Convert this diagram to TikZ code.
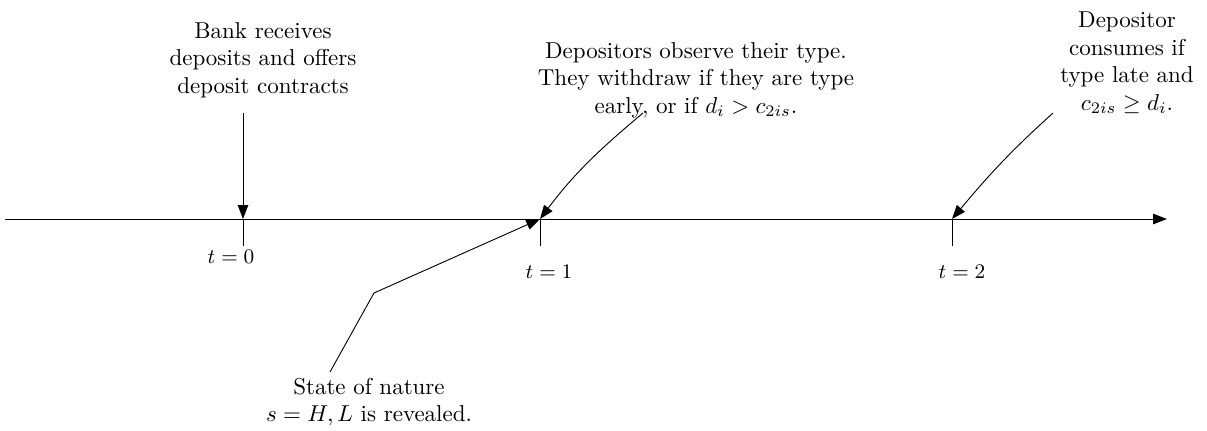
\documentclass[tikz,border=0pt]{standalone}
\usepackage{amsmath,amssymb}
\usetikzlibrary{arrows.meta,positioning}

\begin{document}
\begin{tikzpicture}[
  x=0.435pt, y=-0.435pt,
  note/.style={align=center},
  tlabel/.style={font=\small},
  arrow/.style={-{Triangle[length=6pt,width=4.5pt]}}
]
\useasboundingbox (0,0) rectangle (1207,430);

% time line
\coordinate (start) at (5,219);
\coordinate (end) at (1167,219);
\coordinate (t0) at (243,219);
\coordinate (t1) at (540,219);
\coordinate (t2) at (952,219);
\draw[arrow] (start) -- (end);
\foreach \p in {t0,t1,t2}
  \draw (\p) -- ++(0,27);

\node[tlabel] (lab0) at (231,257) {$t=0$};
\node[tlabel] (lab1) at (549,272) {$t=1$};
\node[tlabel] (lab2) at (962,272) {$t=2$};

% events
\node[note] (bank) at (263,60) {Bank receives\\deposits and offers\\deposit contracts};
\node[note] (observe) at (696,80) {Depositors observe their type.\\They withdraw if they are type\\early, or if $d_i > c_{2is}$.};
\node[note] (consume) at (1127,63) {Depositor\\consumes if\\type late and\\$c_{2is} \geq d_i$.};
\node[note] (nature) at (369,402) {State of nature\\$s = H, L$ is revealed.};

\coordinate (bankfrom) at (243,113);
\coordinate (observefrom) at (643,113);
\coordinate (consumefrom) at (1053,113);
\coordinate (naturefrom) at (330,372);
\coordinate (naturebend) at (374,293);

\draw[arrow] (bankfrom) -- (t0);
\draw[arrow] (observefrom) to[out=220, in=53] (t1);
\draw[arrow] (consumefrom) to[out=222, in=50] (t2);
\draw[arrow] (naturefrom) -- (naturebend) -- (t1);
\end{tikzpicture}
\end{document}
